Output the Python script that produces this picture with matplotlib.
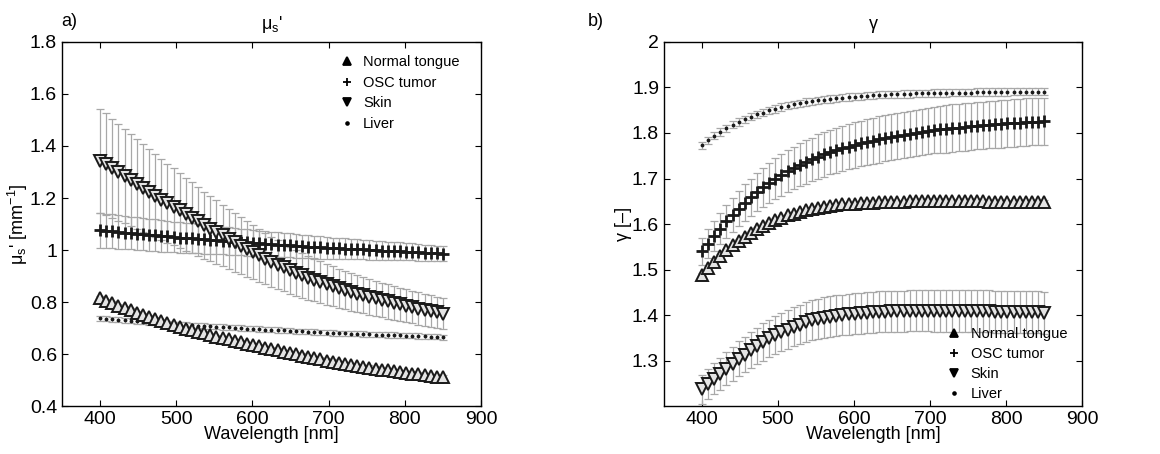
import numpy as np
import matplotlib.pyplot as plt
from matplotlib.lines import Line2D

plt.rcParams['font.family'] = ['Liberation Sans', 'DejaVu Sans']
plt.rcParams['mathtext.fontset'] = 'custom'
plt.rcParams['mathtext.rm'] = 'Liberation Sans'
plt.rcParams['mathtext.it'] = 'Liberation Sans:italic'

# wavelength grid (nm), 57 samples 400..850
wavelength = np.linspace(400, 850, 57)

# ---- panel a) reduced scattering mus' [mm^-1] ----
mus_tongue = [0.815, 0.805, 0.795, 0.786, 0.777, 0.768, 0.759, 0.751, 0.743, 0.735, 0.727, 0.719, 0.712,
              0.705, 0.698, 0.692, 0.685, 0.679, 0.673, 0.667, 0.661, 0.656, 0.650, 0.645, 0.640, 0.635,
              0.630, 0.624, 0.619, 0.614, 0.609, 0.604, 0.599, 0.594, 0.589, 0.584, 0.580, 0.575,
              0.571, 0.567, 0.563, 0.559, 0.555, 0.551, 0.548, 0.544, 0.540, 0.537, 0.534, 0.531, 0.528,
              0.525, 0.522, 0.519, 0.516, 0.513, 0.510]
mus_tongue_err = 0.008

mus_osc = [1.076, 1.074, 1.072, 1.069, 1.067, 1.065, 1.063, 1.061, 1.059, 1.057, 1.054, 1.052, 1.050,
           1.048, 1.046, 1.045, 1.043, 1.041, 1.039, 1.038, 1.036, 1.034, 1.032, 1.031, 1.029, 1.027,
           1.026, 1.024, 1.022, 1.021, 1.019, 1.018, 1.016, 1.014, 1.013, 1.011, 1.010, 1.008,
           1.007, 1.006, 1.005, 1.004, 1.003, 1.002, 1.000, 0.999, 0.998, 0.997, 0.996, 0.995, 0.994,
           0.993, 0.991, 0.990, 0.989, 0.987, 0.986]
mus_osc_err = [0.067, 0.066, 0.065, 0.065, 0.064, 0.063, 0.063, 0.062, 0.061, 0.061,
               0.060, 0.059, 0.059, 0.058, 0.057, 0.057, 0.056, 0.055, 0.055, 0.054,
               0.053, 0.053, 0.052, 0.051, 0.051, 0.050, 0.049, 0.049, 0.048, 0.047,
               0.047, 0.046, 0.045, 0.045, 0.044, 0.043, 0.043, 0.042, 0.041, 0.041,
               0.040, 0.039, 0.039, 0.038, 0.037, 0.037, 0.036, 0.035, 0.035, 0.034,
               0.033, 0.033, 0.032, 0.031, 0.031, 0.030, 0.029]

mus_skin = [1.344, 1.329, 1.314, 1.299, 1.284, 1.269, 1.254, 1.239, 1.224, 1.209, 1.194, 1.180, 1.166,
            1.152, 1.138, 1.124, 1.110, 1.096, 1.082, 1.069, 1.056, 1.043, 1.030, 1.017, 1.004, 0.991,
            0.979, 0.967, 0.955, 0.944, 0.933, 0.922, 0.912, 0.902, 0.893, 0.884, 0.876, 0.868,
            0.860, 0.853, 0.846, 0.839, 0.832, 0.826, 0.820, 0.814, 0.808, 0.802, 0.796, 0.791, 0.786,
            0.780, 0.775, 0.770, 0.765, 0.760, 0.755]
mus_skin_err = [0.200, 0.196, 0.191, 0.186, 0.181, 0.177, 0.172, 0.168, 0.164, 0.160, 0.156, 0.152, 0.148,
                0.144, 0.140, 0.136, 0.133, 0.129, 0.126, 0.122, 0.119, 0.116, 0.113, 0.110, 0.107, 0.104,
                0.101, 0.099, 0.096, 0.094, 0.092, 0.090, 0.088, 0.086, 0.084, 0.082, 0.080, 0.078,
                0.077, 0.075, 0.074, 0.073, 0.071, 0.070, 0.069, 0.068, 0.067, 0.066, 0.065, 0.064, 0.063,
                0.062, 0.062, 0.061, 0.061, 0.060, 0.060]

mus_liver = [0.738, 0.736, 0.734, 0.732, 0.730, 0.728, 0.726, 0.724, 0.722, 0.720, 0.719, 0.717, 0.715,
             0.714, 0.712, 0.711, 0.709, 0.708, 0.707, 0.705, 0.704, 0.703, 0.701, 0.700, 0.698, 0.697,
             0.696, 0.694, 0.693, 0.692, 0.691, 0.690, 0.688, 0.687, 0.686, 0.685, 0.683, 0.682,
             0.681, 0.680, 0.679, 0.678, 0.678, 0.677, 0.676, 0.675, 0.674, 0.673, 0.673, 0.672, 0.671,
             0.670, 0.669, 0.668, 0.667, 0.666, 0.665]
mus_liver_err = 0.010

# ---- panel b) phase function parameter gamma [-] ----
g_tongue = [1.489, 1.503, 1.517, 1.530, 1.542, 1.553, 1.563, 1.572, 1.581, 1.589,
            1.596, 1.603, 1.609, 1.614, 1.619, 1.623, 1.627, 1.630, 1.633, 1.636,
            1.638, 1.640, 1.641, 1.643, 1.644, 1.645, 1.646, 1.647, 1.647, 1.648,
            1.648, 1.649, 1.649, 1.649, 1.650, 1.650, 1.650, 1.650, 1.650, 1.650,
            1.650, 1.650, 1.650, 1.650, 1.650, 1.650, 1.650, 1.649, 1.649, 1.649,
            1.649, 1.649, 1.648, 1.648, 1.648, 1.648, 1.648]
g_tongue_err = 0.004

g_osc = [1.540, 1.557, 1.574, 1.590, 1.606, 1.620, 1.634, 1.647, 1.659, 1.670,
         1.681, 1.691, 1.700, 1.708, 1.716, 1.723, 1.730, 1.736, 1.742, 1.748,
         1.753, 1.758, 1.762, 1.766, 1.770, 1.774, 1.777, 1.780, 1.783, 1.786,
         1.789, 1.791, 1.794, 1.796, 1.798, 1.800, 1.802, 1.804, 1.806, 1.808,
         1.809, 1.811, 1.812, 1.813, 1.815, 1.816, 1.817, 1.818, 1.819, 1.820,
         1.821, 1.822, 1.823, 1.824, 1.825, 1.825, 1.826]
g_osc_err = [0.029, 0.031, 0.033, 0.035, 0.036, 0.038, 0.039, 0.040, 0.041, 0.042,
             0.043, 0.044, 0.045, 0.046, 0.046, 0.047, 0.047, 0.048, 0.048, 0.049,
             0.049, 0.049, 0.050, 0.050, 0.050, 0.050, 0.050, 0.051, 0.051, 0.051,
             0.051, 0.051, 0.051, 0.051, 0.051, 0.051, 0.051, 0.051, 0.051, 0.051,
             0.052, 0.052, 0.052, 0.052, 0.052, 0.052, 0.052, 0.052, 0.052, 0.052,
             0.052, 0.052, 0.052, 0.052, 0.052, 0.052, 0.052]

g_skin = [1.237, 1.249, 1.260, 1.271, 1.282, 1.293, 1.304, 1.313, 1.323, 1.332,
          1.341, 1.349, 1.356, 1.362, 1.368, 1.374, 1.379, 1.384, 1.388, 1.391,
          1.394, 1.396, 1.398, 1.400, 1.402, 1.403, 1.404, 1.405, 1.406, 1.407,
          1.407, 1.408, 1.408, 1.408, 1.409, 1.409, 1.409, 1.409, 1.409, 1.409,
          1.409, 1.409, 1.409, 1.408, 1.408, 1.408, 1.408, 1.408, 1.407, 1.407,
          1.407, 1.407, 1.406, 1.406, 1.406, 1.406, 1.405]
g_skin_err = [0.032, 0.033, 0.034, 0.035, 0.036, 0.037, 0.038, 0.039, 0.039, 0.040,
              0.041, 0.041, 0.042, 0.042, 0.043, 0.043, 0.043, 0.044, 0.044, 0.044,
              0.045, 0.045, 0.045, 0.045, 0.045, 0.045, 0.045, 0.045, 0.045, 0.045,
              0.045, 0.045, 0.045, 0.045, 0.045, 0.045, 0.045, 0.045, 0.046, 0.046,
              0.046, 0.046, 0.046, 0.046, 0.046, 0.046, 0.046, 0.046, 0.046, 0.046,
              0.046, 0.046, 0.046, 0.046, 0.046, 0.046, 0.046]

g_liver = [1.773, 1.784, 1.794, 1.802, 1.810, 1.818, 1.824, 1.830, 1.836, 1.841,
           1.845, 1.850, 1.853, 1.857, 1.860, 1.863, 1.865, 1.868, 1.870, 1.872,
           1.873, 1.875, 1.876, 1.878, 1.879, 1.880, 1.881, 1.882, 1.883, 1.884,
           1.884, 1.885, 1.885, 1.886, 1.886, 1.887, 1.887, 1.887, 1.888, 1.888,
           1.888, 1.889, 1.889, 1.889, 1.889, 1.890, 1.890, 1.890, 1.890, 1.890,
           1.890, 1.891, 1.891, 1.891, 1.891, 1.891, 1.891]
g_liver_err = 0.008

labels = ['Normal tongue', 'OSC tumor', 'Skin', 'Liver']

ERR_COL = '#a8a8a8'


# -----
# one tissue series: grey error bars + black markers
# -----
def draw_series(ax, y, err, marker):
    ax.errorbar(wavelength, y, yerr=err, fmt='none', ecolor=ERR_COL,
                elinewidth=0.9, capsize=3, capthick=0.9, zorder=2)
    if marker == '+':
        ax.plot(wavelength, y, ls='none', marker='+', ms=8, mew=2.0, color='#1a1a1a', zorder=3)
    elif marker == '.':
        ax.plot(wavelength, y, ls='none', marker='.', ms=3.5, color='#1a1a1a', zorder=3)
    else:
        ax.plot(wavelength, y, ls='none', marker=marker, ms=8, mew=1.4,
                mfc='#e4e4e4', mec='#1a1a1a', zorder=3)


def legend_handles():
    h = []
    for m, ms in zip(['^', '+', 'v', '.'], [6, 6, 6, 4]):
        h.append(Line2D([], [], ls='none', marker=m, ms=ms, mew=1.3, color='k', mfc='k'))
    return h


def style_axes(ax):
    ax.set_xlim(350, 900)
    ax.set_xticks([400, 500, 600, 700, 800, 900])
    ax.tick_params(direction='in', top=True, right=True, labelsize=14, length=4.5, width=0.8)
    ax.set_xlabel('Wavelength [nm]', fontsize=13, labelpad=-1)
    for s in ax.spines.values():
        s.set_linewidth(1.0)


fig = plt.figure(figsize=(11.6, 4.54), dpi=100)
ax1 = fig.add_axes([0.0534, 0.1057, 0.3613, 0.8018])
ax2 = fig.add_axes([0.5724, 0.1057, 0.3604, 0.8018])

draw_series(ax1, mus_liver, mus_liver_err, '.')
draw_series(ax1, mus_tongue, mus_tongue_err, '^')
draw_series(ax1, mus_osc, mus_osc_err, '+')
draw_series(ax1, mus_skin, mus_skin_err, 'v')
style_axes(ax1)
ax1.set_ylim(0.4, 1.8)
ax1.set_yticks([0.4, 0.6, 0.8, 1.0, 1.2, 1.4, 1.6, 1.8])
ax1.set_yticklabels(['0.4', '0.6', '0.8', '1', '1.2', '1.4', '1.6', '1.8'])
ax1.set_ylabel("μ$_\\mathrm{s}$' [mm$^{-1}$]", fontsize=13, labelpad=0)
ax1.set_title("μ$_\\mathrm{s}$'", fontsize=13, pad=9)
ax1.legend(legend_handles(), labels, loc='upper right', frameon=False, fontsize=10.5,
           handlelength=1.0, handletextpad=0.6, labelspacing=0.45, borderaxespad=0.5,
           bbox_to_anchor=(0.98, 1.0))

draw_series(ax2, g_liver, g_liver_err, '.')
draw_series(ax2, g_tongue, g_tongue_err, '^')
draw_series(ax2, g_osc, g_osc_err, '+')
draw_series(ax2, g_skin, g_skin_err, 'v')
style_axes(ax2)
ax2.set_ylim(1.2, 2.0)
ax2.set_yticks([1.3, 1.4, 1.5, 1.6, 1.7, 1.8, 1.9, 2.0])
ax2.set_yticklabels(['1.3', '1.4', '1.5', '1.6', '1.7', '1.8', '1.9', '2'])
ax2.set_ylabel('γ [–]', fontsize=13, labelpad=0)
ax2.set_title('γ', fontsize=13, pad=9)
ax2.legend(legend_handles(), labels, loc='lower right', frameon=False, fontsize=10.5,
           handlelength=1.0, handletextpad=0.6, labelspacing=0.4, borderaxespad=0.2,
           bbox_to_anchor=(0.985, -0.01))

fig.text(0.053, 0.952, 'a)', fontsize=13, va='center')
fig.text(0.507, 0.952, 'b)', fontsize=13, va='center')

fig.savefig('out.png', dpi=100)
